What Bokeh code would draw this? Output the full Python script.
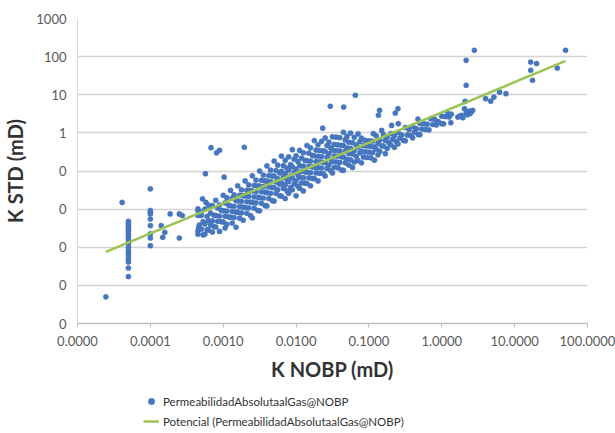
from bokeh.plotting import figure
from bokeh.models import Range1d, FixedTicker, Legend, LegendItem
from bokeh.layouts import column
from bokeh.embed import file_html
from bokeh.resources import INLINE

# ---------------- data ----------------
# sparse points at small K (lowest point, columns at 5e-5 and 1e-4, isolated points)
nobp_left = [2.45e-5, 4.1e-5,
             5.0e-5, 5.0e-5, 5.0e-5, 5.0e-5, 5.0e-5, 5.0e-5, 5.0e-5, 5.0e-5, 5.0e-5, 5.0e-5,
             5.0e-5, 5.0e-5, 5.0e-5, 5.0e-5, 5.0e-5, 5.0e-5, 5.0e-5, 5.0e-5, 5.0e-5,
             1.0e-4, 1.0e-4, 1.0e-4, 1.0e-4, 1.0e-4, 1.0e-4, 1.0e-4, 1.0e-4, 1.0e-4,
             1.41e-4, 1.58e-4, 1.48e-4, 1.87e-4, 2.5e-4, 2.74e-4, 2.5e-4,
             4.5e-4, 4.6e-4, 5.0e-4, 4.5e-4, 4.5e-4, 5.2e-4, 5.8e-4, 5.7e-4, 6.8e-4, 8.9e-4, 8.1e-4, 1.03e-3, 1.95e-3]
std_left = [5.0e-5, 0.015,
            4.8e-3, 4.25e-3, 3.77e-3, 3.33e-3, 2.95e-3, 2.62e-3, 2.24e-3, 1.9e-3, 1.62e-3, 1.38e-3,
            1.22e-3, 1.0e-3, 8.1e-4, 6.9e-4, 5.9e-4, 4.8e-4, 4.1e-4, 2.86e-4, 1.7e-4,
            0.034, 9.2e-3, 8.3e-3, 7.5e-3, 5.5e-3, 3.7e-3, 2.24e-3, 1.75e-3, 1.1e-3,
            3.7e-3, 2.47e-3, 1.82e-3, 7.5e-3, 7.5e-3, 6.8e-3, 1.75e-3,
            9.2e-3, 3.3e-3, 6.8e-3, 2.2e-3, 1.02e-2, 1.86e-2, 1.5e-2, 8.5e-2, 0.41, 0.35, 0.30, 6.9e-2, 0.42]

# main cloud (one line per narrow band of K NOBP)
nobp_cloud = [
    4.5e-4, 4.7e-4, 4.5e-4,
    5.0e-4, 5.3e-4, 5.0e-4, 5.3e-4,
    5.6e-4, 6.0e-4, 5.6e-4, 6.0e-4, 5.6e-4,
    6.3e-4, 6.7e-4, 6.3e-4, 6.7e-4, 6.3e-4,
    7.1e-4, 7.5e-4, 7.1e-4, 7.5e-4, 7.1e-4,
    7.9e-4, 8.4e-4, 7.9e-4, 8.4e-4, 7.9e-4,
    8.9e-4, 9.4e-4, 8.9e-4, 9.4e-4, 8.9e-4,
    1.0e-3, 1.06e-3, 1.0e-3, 1.06e-3, 1.0e-3, 1.06e-3,
    1.12e-3, 1.19e-3, 1.12e-3, 1.19e-3, 1.12e-3,
    1.26e-3, 1.33e-3, 1.26e-3, 1.33e-3, 1.26e-3, 1.33e-3,
    1.41e-3, 1.5e-3, 1.41e-3, 1.5e-3, 1.41e-3, 1.5e-3,
    1.58e-3, 1.68e-3, 1.58e-3, 1.68e-3, 1.58e-3, 1.68e-3,
    1.78e-3, 1.88e-3, 1.78e-3, 1.88e-3, 1.78e-3, 1.88e-3,
    2.0e-3, 2.11e-3, 2.0e-3, 2.11e-3, 2.0e-3, 2.11e-3,
    2.24e-3, 2.37e-3, 2.24e-3, 2.37e-3, 2.24e-3, 2.37e-3,
    2.51e-3, 2.66e-3, 2.51e-3, 2.66e-3, 2.51e-3, 2.66e-3, 2.51e-3,
    2.82e-3, 2.99e-3, 2.82e-3, 2.99e-3, 2.82e-3, 2.99e-3,
    3.16e-3, 3.35e-3, 3.16e-3, 3.35e-3, 3.16e-3, 3.35e-3, 3.16e-3,
    3.55e-3, 3.76e-3, 3.55e-3, 3.76e-3, 3.55e-3, 3.76e-3,
    3.98e-3, 4.22e-3, 3.98e-3, 4.22e-3, 3.98e-3, 4.22e-3, 3.98e-3,
    4.47e-3, 4.73e-3, 4.47e-3, 4.73e-3, 4.47e-3, 4.73e-3,
    5.0e-3, 5.3e-3, 5.0e-3, 5.3e-3, 5.0e-3, 5.3e-3, 5.0e-3,
    5.6e-3, 5.96e-3, 5.6e-3, 5.96e-3, 5.6e-3, 5.96e-3,
    6.3e-3, 6.7e-3, 6.3e-3, 6.7e-3, 6.3e-3, 6.7e-3, 6.3e-3,
    7.1e-3, 7.5e-3, 7.1e-3, 7.5e-3, 7.1e-3, 7.5e-3, 7.1e-3,
    7.9e-3, 8.4e-3, 7.9e-3, 8.4e-3, 7.9e-3, 8.4e-3, 7.9e-3,
    8.9e-3, 9.4e-3, 8.9e-3, 9.4e-3, 8.9e-3, 9.4e-3, 8.9e-3,
    1.0e-2, 1.06e-2, 1.0e-2, 1.06e-2, 1.0e-2, 1.06e-2, 1.0e-2,
    1.12e-2, 1.19e-2, 1.12e-2, 1.19e-2, 1.12e-2, 1.19e-2, 1.12e-2,
    1.26e-2, 1.33e-2, 1.26e-2, 1.33e-2, 1.26e-2, 1.33e-2, 1.26e-2,
    1.41e-2, 1.5e-2, 1.41e-2, 1.5e-2, 1.41e-2, 1.5e-2, 1.41e-2,
    1.58e-2, 1.68e-2, 1.58e-2, 1.68e-2, 1.58e-2, 1.68e-2, 1.58e-2,
    1.78e-2, 1.88e-2, 1.78e-2, 1.88e-2, 1.78e-2, 1.88e-2, 1.78e-2,
    2.0e-2, 2.11e-2, 2.0e-2, 2.11e-2, 2.0e-2, 2.11e-2, 2.0e-2,
    2.24e-2, 2.37e-2, 2.24e-2, 2.37e-2, 2.24e-2, 2.37e-2,
    2.51e-2, 2.66e-2, 2.51e-2, 2.66e-2, 2.51e-2, 2.66e-2, 2.51e-2,
    2.82e-2, 2.99e-2, 2.82e-2, 2.99e-2, 2.82e-2, 2.99e-2,
    3.16e-2, 3.35e-2, 3.16e-2, 3.35e-2, 3.16e-2, 3.35e-2, 3.16e-2,
    3.55e-2, 3.76e-2, 3.55e-2, 3.76e-2, 3.55e-2, 3.76e-2,
    3.98e-2, 4.22e-2, 3.98e-2, 4.22e-2, 3.98e-2, 4.22e-2,
    4.47e-2, 4.73e-2, 4.47e-2, 4.73e-2, 4.47e-2, 4.73e-2, 4.47e-2,
    5.0e-2, 5.3e-2, 5.0e-2, 5.3e-2, 5.0e-2, 5.3e-2,
    5.6e-2, 5.96e-2, 5.6e-2, 5.96e-2, 5.6e-2, 5.96e-2,
    6.3e-2, 6.7e-2, 6.3e-2, 6.7e-2, 6.3e-2,
    7.1e-2, 7.5e-2, 7.1e-2, 7.5e-2, 7.1e-2,
    7.9e-2, 8.4e-2, 7.9e-2, 8.4e-2, 7.9e-2,
    8.9e-2, 9.4e-2, 8.9e-2, 9.4e-2,
    0.1, 0.106, 0.1, 0.106,
    0.112, 0.119, 0.112, 0.119,
    0.126, 0.133, 0.126, 0.133,
    0.141, 0.150, 0.141,
    0.158, 0.168, 0.158, 0.168,
    0.178, 0.188, 0.178,
    0.20, 0.211, 0.20,
    0.224, 0.237, 0.224,
    0.251, 0.266, 0.251,
    0.282, 0.299,
    0.316, 0.335, 0.316,
    0.355, 0.376,
    0.398, 0.422, 0.398,
    0.447, 0.473,
    0.50, 0.53, 0.50,
    0.56, 0.596,
    0.631, 0.668,
    0.708, 0.75,
    0.794, 0.841,
    0.891,
    1.0, 1.06,
    1.12,
    1.26, 1.33,
]
std_cloud = [
    6.8e-3, 3.8e-3, 2.7e-3,
    8.3e-3, 4.7e-3, 3.0e-3, 2.1e-3,
    1.0e-2, 6.5e-3, 4.1e-3, 2.9e-3, 2.2e-3,
    1.26e-2, 7.9e-3, 5.0e-3, 3.8e-3, 2.8e-3,
    1.23e-2, 6.9e-3, 4.9e-3, 3.5e-3, 2.5e-3,
    1.7e-2, 1.07e-2, 6.8e-3, 4.8e-3, 3.4e-3,
    1.3e-2, 9.3e-3, 6.6e-3, 4.7e-3, 2.6e-3,
    2.3e-2, 1.45e-2, 9.1e-3, 6.5e-3, 4.6e-3, 3.2e-3,
    2.0e-2, 1.26e-2, 8.9e-3, 6.3e-3, 4.0e-3,
    3.1e-2, 1.93e-2, 1.22e-2, 8.6e-3, 6.1e-3, 4.3e-3,
    2.37e-2, 1.68e-2, 1.19e-2, 8.4e-3, 6.0e-3, 3.35e-3,
    4.1e-2, 2.3e-2, 1.64e-2, 1.16e-2, 8.2e-3, 5.8e-3,
    3.2e-2, 2.26e-2, 1.6e-2, 1.13e-2, 8.0e-3, 5.1e-3,
    5.5e-2, 3.1e-2, 2.2e-2, 1.56e-2, 1.1e-2, 7.8e-3,
    4.3e-2, 3.05e-2, 2.16e-2, 1.53e-2, 1.08e-2, 6.8e-3,
    7.5e-2, 4.2e-2, 3.0e-2, 2.1e-2, 1.5e-2, 1.06e-2, 5.9e-3,
    5.8e-2, 4.1e-2, 2.9e-2, 2.06e-2, 1.46e-2, 9.2e-3,
    0.1, 5.7e-2, 4.0e-2, 2.84e-2, 2.0e-2, 1.42e-2, 9.0e-3,
    7.8e-2, 5.5e-2, 3.9e-2, 2.8e-2, 1.96e-2, 1.24e-2,
    0.136, 7.6e-2, 5.4e-2, 3.8e-2, 2.7e-2, 1.9e-2, 1.21e-2,
    0.105, 7.4e-2, 5.3e-2, 3.7e-2, 2.6e-2, 1.67e-2,
    0.183, 0.103, 7.3e-2, 5.15e-2, 3.65e-2, 2.58e-2, 1.63e-2,
    0.142, 8.9e-2, 6.3e-2, 4.5e-2, 3.2e-2, 2.24e-2,
    0.246, 0.138, 9.8e-2, 6.9e-2, 4.9e-2, 3.5e-2, 2.19e-2,
    0.191, 0.120, 8.5e-2, 6.0e-2, 4.3e-2, 3.0e-2, 1.9e-2,
    0.235, 0.148, 0.105, 7.4e-2, 5.3e-2, 3.7e-2, 2.6e-2,
    0.363, 0.204, 0.129, 9.1e-2, 6.5e-2, 4.6e-2, 3.2e-2,
    0.251, 0.178, 0.112, 7.9e-2, 5.6e-2, 4.0e-2, 2.24e-2,
    0.347, 0.219, 0.138, 9.8e-2, 6.9e-2, 4.9e-2, 3.5e-2,
    0.301, 0.190, 0.135, 9.5e-2, 6.7e-2, 4.8e-2, 3.0e-2,
    0.467, 0.294, 0.186, 0.132, 9.3e-2, 6.6e-2, 4.7e-2,
    0.406, 0.256, 0.182, 0.129, 9.1e-2, 6.4e-2, 4.1e-2,
    0.628, 0.353, 0.250, 0.177, 0.125, 8.9e-2, 6.3e-2,
    0.488, 0.345, 0.244, 0.173, 0.122, 8.7e-2, 5.5e-2,
    0.60, 0.337, 0.239, 0.169, 0.120, 8.5e-2,
    0.738, 0.466, 0.330, 0.233, 0.165, 0.117, 7.4e-2,
    0.571, 0.405, 0.286, 0.203, 0.144, 0.102,
    0.789, 0.498, 0.352, 0.249, 0.177, 0.125, 8.9e-2,
    0.771, 0.486, 0.344, 0.244, 0.173, 0.122,
    0.752, 0.474, 0.336, 0.238, 0.168, 0.106,
    1.04, 0.655, 0.463, 0.328, 0.232, 0.164, 0.104,
    0.805, 0.570, 0.404, 0.286, 0.202, 0.143,
    0.989, 0.556, 0.394, 0.279, 0.197, 0.124,
    0.767, 0.484, 0.343, 0.243, 0.172,
    0.944, 0.596, 0.422, 0.299, 0.188,
    0.733, 0.462, 0.327, 0.232, 0.164,
    0.637, 0.451, 0.319, 0.226,
    0.622, 0.441, 0.312, 0.221,
    0.608, 0.431, 0.305, 0.192,
    0.838, 0.528, 0.374, 0.265,
    0.650, 0.460, 0.326,
    0.897, 0.635, 0.450, 0.284,
    0.780, 0.552, 0.391,
    0.959, 0.679, 0.481,
    0.836, 0.592, 0.419,
    1.03, 0.728, 0.515,
    0.893, 0.632,
    1.38, 0.873, 0.618,
    1.21, 0.853,
    1.48, 1.05, 0.741,
    1.29, 0.912,
    1.78, 1.26, 0.891,
    1.74, 1.23,
    1.69, 1.20,
    2.34, 1.66,
    2.29, 1.62,
    1.99,
    2.74, 1.73,
    2.68,
    2.61, 1.85,
]

# isolated points above the cloud
nobp_mid = [0.0232, 0.0295, 0.045, 0.065, 0.115, 0.150, 0.205, 0.253, 0.135, 0.14,
            0.23, 0.25, 0.47, 0.887, 1.0, 1.21, 1.35]
std_mid = [1.33, 5.0, 4.75, 9.7, 0.95, 1.16, 1.57, 1.74, 2.9, 3.9,
           3.3, 4.3, 2.3, 1.92, 1.74, 3.2, 3.1]

# high-permeability points
nobp_right = [1.66, 1.85, 1.95, 2.05, 2.16, 2.39, 2.52, 2.66, 2.09, 2.25, 2.45, 1.75,
              2.16, 2.16, 2.8, 4.0, 4.7, 5.2, 6.2, 7.6, 16.6, 20.0, 16.6, 17.6, 38.5, 50.0]
std_right = [2.6, 2.88, 2.5, 4.3, 3.3, 3.7, 3.5, 3.9, 6.7, 3.0, 3.2, 2.7,
             17.7, 80.0, 147.0, 7.9, 6.8, 8.7, 11.7, 10.7, 72.0, 66.0, 44.0, 24.0, 50.0, 147.0]

# power trend line: K_STD = a * K_NOBP ** b
trend_a = 3.45
trend_b = 0.794

x_ticks = [1e-5, 1e-4, 1e-3, 1e-2, 1e-1, 1.0, 10.0, 100.0]
x_tick_labels = ["0.0000", "0.0001", "0.0010", "0.0100", "0.1000", "1.0000", "10.0000", "100.0000"]
y_ticks = [1e-5, 1e-4, 1e-3, 1e-2, 1e-1, 1.0, 10.0, 100.0, 1000.0]
y_tick_labels = ["0", "0", "0", "0", "0", "1", "10", "100", "1000"]

series_label = "PermeabilidadAbsolutaalGas@NOBP"
trend_label = "Potencial (PermeabilidadAbsolutaalGas@NOBP)"

# ---------------- styles ----------------
FONT = "Lato"
PT_FILL = "#4677C0"
PT_LINE = "#4070B5"
TREND = "#9BC454"

# ---------------- main figure ----------------
k_nobp = nobp_left + nobp_cloud + nobp_mid + nobp_right
k_std = std_left + std_cloud + std_mid + std_right
x0 = min(k_nobp)
x1 = max(k_nobp)
trend_x = [x0, x1]
trend_y = [trend_a * x0 ** trend_b, trend_a * x1 ** trend_b]

p = figure(width=615, height=390, x_axis_type="log", y_axis_type="log",
           x_range=Range1d(1e-5, 100), y_range=Range1d(1e-5, 1000),
           output_backend="svg", toolbar_location=None,
           min_border_left=74, min_border_right=28, min_border_top=18, min_border_bottom=67)
p.outline_line_color = None
p.background_fill_color = "white"
p.border_fill_color = "white"

pts = p.scatter(k_nobp, k_std, marker="circle", size=5.2, fill_color=PT_FILL,
                line_color=PT_LINE, line_width=0.4)
tr = p.line(trend_x, trend_y, line_color=TREND, line_width=2.5)

p.xaxis.ticker = FixedTicker(ticks=x_ticks, minor_ticks=[])
p.yaxis.ticker = FixedTicker(ticks=y_ticks, minor_ticks=[])
p.xaxis.major_label_overrides = {t: s for t, s in zip(x_ticks, x_tick_labels)}
p.yaxis.major_label_overrides = {t: s for t, s in zip(y_ticks, y_tick_labels)}

for ax in (p.xaxis[0], p.yaxis[0]):
    ax.major_label_text_font = FONT
    ax.major_label_text_font_size = "13px"
    ax.major_label_text_color = "#595959"
    ax.axis_label_text_font = FONT
    ax.axis_label_text_font_size = "20px"
    ax.axis_label_text_font_style = "bold"
    ax.axis_label_text_color = "#333333"
    ax.minor_tick_line_color = None

p.xaxis.axis_label = "K NOBP (mD)"
p.yaxis.axis_label = "K STD (mD)"
p.xaxis.axis_line_color = "#BFBFBF"
p.xaxis.axis_line_width = 1.5
p.xaxis.major_tick_line_color = "#BFBFBF"
p.xaxis.major_tick_out = 4
p.xaxis.major_tick_in = 0
p.xaxis.major_label_standoff = 8
p.xaxis.axis_label_standoff = 8
p.yaxis.axis_line_color = "#D9D9D9"
p.yaxis.major_tick_line_color = None
p.yaxis.major_tick_out = 0
p.yaxis.major_tick_in = 0
p.yaxis.major_label_standoff = 11
p.yaxis.axis_label_standoff = 6

p.xgrid.grid_line_color = None
p.ygrid.grid_line_color = "#D4D4D4"
p.ygrid.grid_line_width = 1.5

# ---------------- legend strip below the chart ----------------
# the strip's ranges lie outside the data, so its renderers only feed the legend
lg = figure(width=615, height=43, x_range=Range1d(1000, 2000), y_range=Range1d(1000, 2000),
            output_backend="svg", toolbar_location=None,
            x_axis_location=None, y_axis_location=None, min_border=0)
lg.outline_line_color = None
lg.grid.grid_line_color = None
lg.background_fill_color = "white"
lg.border_fill_color = "white"
lg_pts = lg.scatter(k_nobp, k_std, marker="circle", size=5.2, fill_color=PT_FILL,
                    line_color=PT_LINE, line_width=0.4)
lg_tr = lg.line(trend_x, trend_y, line_color=TREND, line_width=2.5)

legend = Legend(items=[LegendItem(label=series_label, renderers=[lg_pts]),
                       LegendItem(label=trend_label, renderers=[lg_tr])],
                location=(66, 4), orientation="vertical",
                label_text_font=FONT, label_text_font_size="11.5px", label_text_color="#333333",
                glyph_width=16, glyph_height=16, label_height=16, label_standoff=4,
                spacing=4, padding=0, margin=0,
                border_line_color=None, background_fill_alpha=0)
lg.add_layout(legend, "center")

layout = column(p, lg, spacing=0)
open("out.html", "w").write(file_html(layout, INLINE))
